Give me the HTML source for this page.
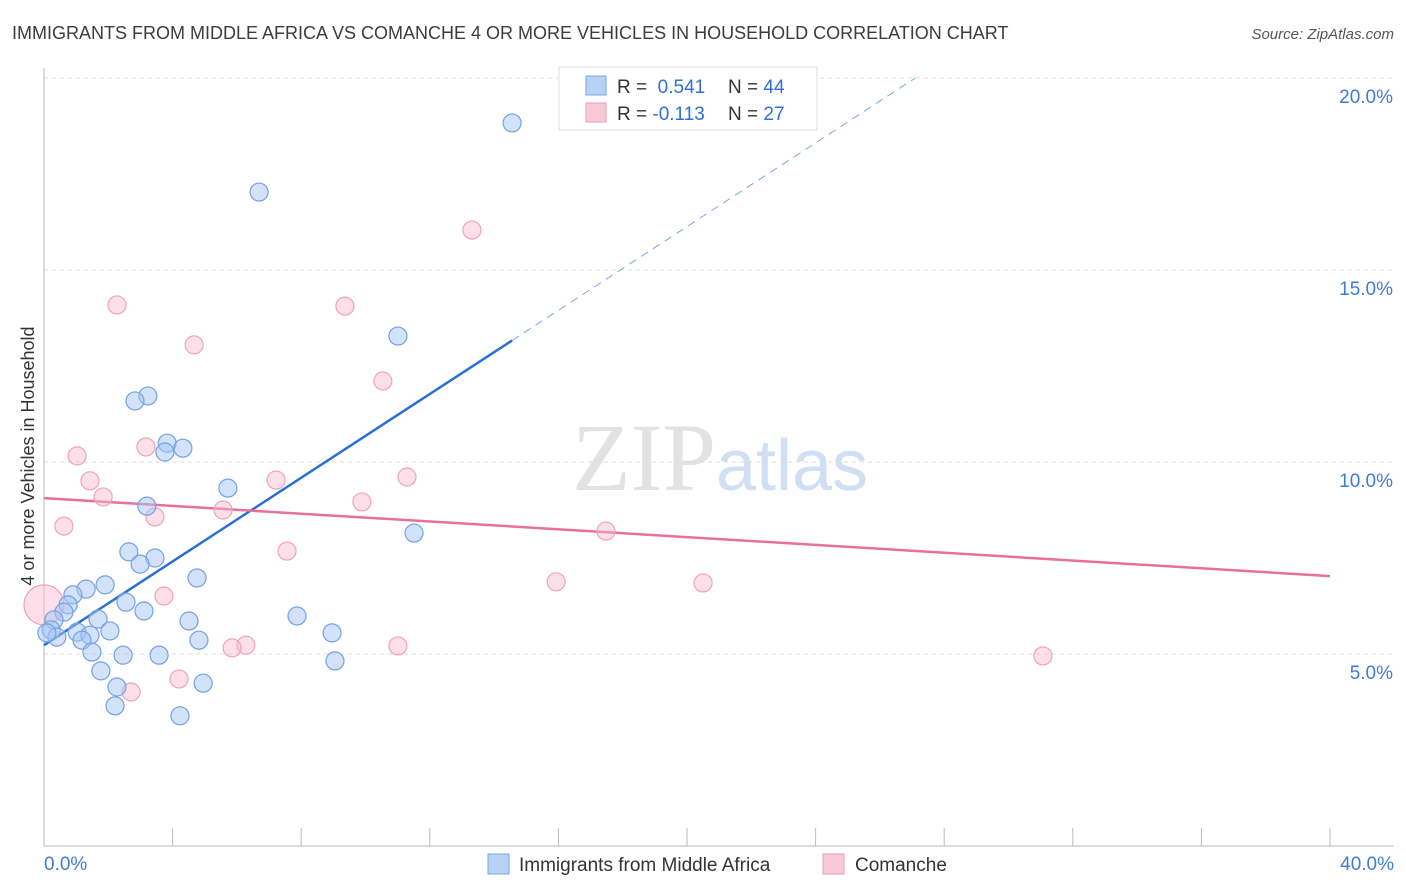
<!DOCTYPE html>
<html><head><meta charset="utf-8"><style>
body{margin:0;background:#fff;font-family:"Liberation Sans",sans-serif}
</style></head><body>
<svg id="chart" width="1406" height="892" xmlns="http://www.w3.org/2000/svg" style="display:block">
<text x="12" y="39" font-size="18" fill="#3c3c3c">IMMIGRANTS FROM MIDDLE AFRICA VS COMANCHE 4 OR MORE VEHICLES IN HOUSEHOLD CORRELATION CHART</text>
<text x="1394" y="39" font-size="15" fill="#555" text-anchor="end" font-style="italic">Source: ZipAtlas.com</text>
<text transform="translate(34,456) rotate(-90)" font-size="18" fill="#333" text-anchor="middle">4 or more Vehicles in Household</text>
<text x="720" y="490" font-size="96" text-anchor="middle" fill="#e2e2e2" font-family="Liberation Serif">ZIP<tspan fill="#cfe0f5" font-family="Liberation Sans" font-size="72">atlas</tspan></text>
<g id="grid"></g><g id="axes"></g><g id="lines"></g><g id="points"></g>
<g>
<rect x="559" y="67" width="258" height="63" fill="#fff" stroke="#ddd"/>
<rect x="586" y="76" width="20" height="19" fill="#b8d2f5" stroke="#7aa6e6"/>
<rect x="586" y="103" width="20" height="19" fill="#fac9d8" stroke="#ee9fba"/>
<text x="617" y="93" font-size="19" fill="#333">R = <tspan fill="#2f6fd6">&#160;0.541</tspan><tspan x="728">N = </tspan><tspan fill="#2f6fd6">44</tspan></text>
<text x="617" y="120" font-size="19" fill="#333">R = <tspan fill="#2f6fd6">-0.113</tspan><tspan x="728">N = </tspan><tspan fill="#2f6fd6">27</tspan></text>
</g>
<g>
<rect x="488" y="854" width="21" height="20" fill="#b8d2f5" stroke="#7aa6e6"/>
<text x="519" y="871" font-size="19" fill="#333">Immigrants from Middle Africa</text>
<rect x="823" y="854" width="21" height="20" fill="#fac9d8" stroke="#ee9fba"/>
<text x="855" y="871" font-size="19" fill="#333">Comanche</text>
</g>
</svg>
<script>
const blueX=[14.56,6.69,11.01,3.23,2.83,3.83,4.32,3.76,5.72,3.20,11.51,2.64,3.45,2.99,4.76,1.90,1.31,0.90,2.55,0.75,0.62,3.11,7.87,1.68,4.51,0.31,0.22,1.03,2.05,1.43,8.96,0.40,1.18,4.82,0.09,1.49,2.46,3.58,9.05,1.77,2.27,4.95,2.21,4.23];
const blueY=[18.83,17.03,13.28,11.72,11.59,10.49,10.36,10.26,9.32,8.85,8.15,7.66,7.50,7.34,6.98,6.80,6.69,6.54,6.35,6.28,6.09,6.12,5.99,5.91,5.86,5.89,5.63,5.57,5.60,5.49,5.55,5.44,5.36,5.36,5.55,5.05,4.97,4.97,4.82,4.56,4.14,4.24,3.65,3.39];
const pinkX=[13.31,2.27,9.36,4.67,10.54,3.17,1.03,1.43,11.29,7.22,1.84,9.89,5.57,3.45,0.62,17.48,7.56,15.93,20.50,3.73,6.28,5.85,11.01,31.07,4.20,2.71,0];
const pinkY=[16.04,14.09,14.06,13.05,12.11,10.39,10.16,9.51,9.61,9.53,9.09,8.96,8.75,8.57,8.33,8.20,7.68,6.88,6.85,6.51,5.23,5.16,5.21,4.95,4.35,4.01,6.28];
const blueLine=[5.23,0.545]; // intercept, slope
const pinkLine=[9.06,-0.0508];
const xTicks=[0,40];
const yTicks=[5,10,15,20];
const NS="http://www.w3.org/2000/svg";
const sx=v=>44+v*(1286/40), sy=v=>846-v*38.4;
function mk(t,a,p){const e=document.createElementNS(NS,t);for(const k in a)e.setAttribute(k,a[k]);p.appendChild(e);return e;}
const grid=document.getElementById('grid'),axes=document.getElementById('axes'),lines=document.getElementById('lines'),pts=document.getElementById('points');
yTicks.forEach(v=>{
 const l=mk('line',{x1:44,x2:1394,y1:sy(v),y2:sy(v),stroke:'#dcdcdc','stroke-dasharray':'4,4'},grid);
 
 
 const t=mk('text',{x:1393,y:sy(v)+25,'font-size':19,fill:'#3f7bd8','text-anchor':'end'},axes);t.textContent=v.toFixed(1)+'%';
 
 
});
const ax=mk('line',{x1:44,x2:44,y1:68,y2:846,stroke:'#bbb'},axes);


const bx=mk('line',{x1:44,x2:1394,y1:846,y2:846,stroke:'#bbb'},axes);


for(let i=0;i<=10;i++){const t=mk('line',{x1:sx(i*4),x2:sx(i*4),y1:828,y2:846,stroke:'#bbb'},axes);
 
 }
xTicks.forEach((v,i)=>{const t=mk('text',{x:i==0?44:1394,y:870,'font-size':19,fill:'#3f7bd8','text-anchor':i==0?'start':'end'},axes);t.textContent=v.toFixed(1)+'%';
 
 });
// regression lines
const bEnd=Math.max(...blueX), bTop=(20-blueLine[0])/blueLine[1];
let l=mk('line',{x1:sx(0),y1:sy(blueLine[0]),x2:sx(bEnd),y2:sy(blueLine[0]+blueLine[1]*bEnd),stroke:'#2a6fd6','stroke-width':2.5},lines);


l=mk('line',{x1:sx(bEnd),y1:sy(blueLine[0]+blueLine[1]*bEnd),x2:sx(bTop),y2:sy(20),stroke:'#7aa6e6','stroke-width':1,'stroke-dasharray':'8,6'},lines);


l=mk('line',{x1:sx(0),y1:sy(pinkLine[0]),x2:sx(40),y2:sy(pinkLine[0]+pinkLine[1]*40),stroke:'#e8709a','stroke-width':2.5},lines);


pinkX.forEach((x,i)=>{const c=mk('circle',{cx:sx(x),cy:sy(pinkY[i]),r:i==pinkX.length-1?20:9,fill:'rgba(248,185,205,0.45)',stroke:'#eea3bd','stroke-width':1.2},pts);
 
 });
blueX.forEach((x,i)=>{const c=mk('circle',{cx:sx(x),cy:sy(blueY[i]),r:9,fill:'rgba(165,198,242,0.5)',stroke:'#73a1e4','stroke-width':1.2},pts);
 
 });
</script>
</body></html>
